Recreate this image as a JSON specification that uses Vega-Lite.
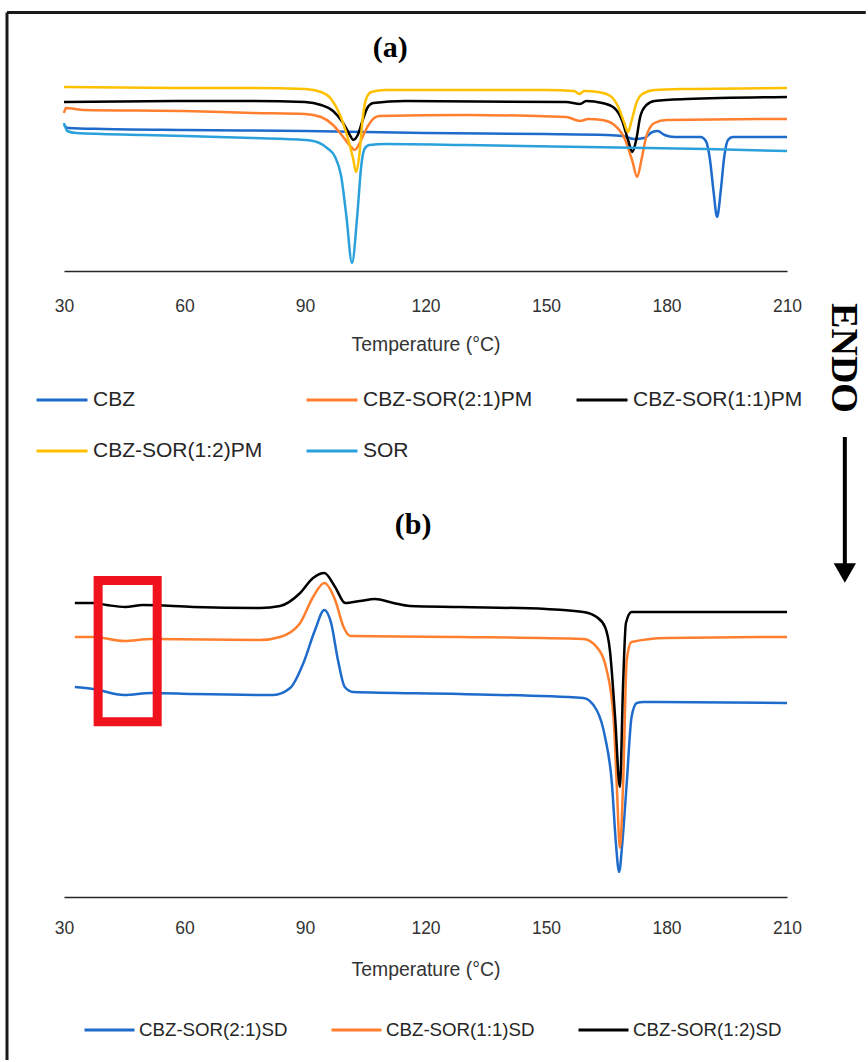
{
  "$schema": "https://vega.github.io/schema/vega-lite/v6.json",
  "background": "white",
  "padding": {"left": 5, "top": 11, "right": 0, "bottom": 0},
  "config": {
    "view": {"stroke": null},
    "axis": {"domainColor": "#262626", "domainWidth": 1.5, "ticks": false, "tickSize": 0, "grid": false, "labelFont": "Liberation Sans", "labelFontSize": 17.5, "labelColor": "#333333", "labelFlush": false, "labelOverlap": false, "titleFont": "Liberation Sans", "titleFontSize": 19.4, "titleFontWeight": "normal", "titleColor": "#333333"}
  },
  "datasets": {
    "a": [
      {"s": "CBZ", "t": 30, "h": 146}, {"s": "CBZ", "t": 31, "h": 143}, {"s": "CBZ", "t": 40, "h": 142}, {"s": "CBZ", "t": 60, "h": 141}, {"s": "CBZ", "t": 90, "h": 140}, {"s": "CBZ", "t": 120, "h": 138}, {"s": "CBZ", "t": 150, "h": 137}, {"s": "CBZ", "t": 165, "h": 136}, {"s": "CBZ", "t": 169, "h": 135}, {"s": "CBZ", "t": 172, "h": 132}, {"s": "CBZ", "t": 174.5, "h": 133}, {"s": "CBZ", "t": 176.5, "h": 139}, {"s": "CBZ", "t": 177.8, "h": 140}, {"s": "CBZ", "t": 179.5, "h": 136}, {"s": "CBZ", "t": 182, "h": 134}, {"s": "CBZ", "t": 188.5, "h": 134}, {"s": "CBZ", "t": 189.8, "h": 130}, {"s": "CBZ", "t": 190.8, "h": 112}, {"s": "CBZ", "t": 191.7, "h": 80}, {"s": "CBZ", "t": 192.6, "h": 54}, {"s": "CBZ", "t": 193.5, "h": 80}, {"s": "CBZ", "t": 194.4, "h": 115}, {"s": "CBZ", "t": 195.3, "h": 131}, {"s": "CBZ", "t": 196.5, "h": 134}, {"s": "CBZ", "t": 210, "h": 134},
      {"s": "CBZ-SOR(2:1)PM", "t": 30, "h": 158}, {"s": "CBZ-SOR(2:1)PM", "t": 30.5, "h": 163}, {"s": "CBZ-SOR(2:1)PM", "t": 35, "h": 161}, {"s": "CBZ-SOR(2:1)PM", "t": 60, "h": 160}, {"s": "CBZ-SOR(2:1)PM", "t": 77, "h": 158}, {"s": "CBZ-SOR(2:1)PM", "t": 90, "h": 157}, {"s": "CBZ-SOR(2:1)PM", "t": 94, "h": 154}, {"s": "CBZ-SOR(2:1)PM", "t": 97, "h": 146}, {"s": "CBZ-SOR(2:1)PM", "t": 99.5, "h": 134}, {"s": "CBZ-SOR(2:1)PM", "t": 101.5, "h": 124}, {"s": "CBZ-SOR(2:1)PM", "t": 102.4, "h": 121}, {"s": "CBZ-SOR(2:1)PM", "t": 103.5, "h": 127}, {"s": "CBZ-SOR(2:1)PM", "t": 105, "h": 140}, {"s": "CBZ-SOR(2:1)PM", "t": 106.5, "h": 150}, {"s": "CBZ-SOR(2:1)PM", "t": 108.5, "h": 155}, {"s": "CBZ-SOR(2:1)PM", "t": 130, "h": 156}, {"s": "CBZ-SOR(2:1)PM", "t": 155, "h": 154}, {"s": "CBZ-SOR(2:1)PM", "t": 158.5, "h": 150}, {"s": "CBZ-SOR(2:1)PM", "t": 160.5, "h": 152}, {"s": "CBZ-SOR(2:1)PM", "t": 164, "h": 151}, {"s": "CBZ-SOR(2:1)PM", "t": 167, "h": 146}, {"s": "CBZ-SOR(2:1)PM", "t": 169.5, "h": 133}, {"s": "CBZ-SOR(2:1)PM", "t": 171.5, "h": 110}, {"s": "CBZ-SOR(2:1)PM", "t": 172.7, "h": 94}, {"s": "CBZ-SOR(2:1)PM", "t": 173.8, "h": 112}, {"s": "CBZ-SOR(2:1)PM", "t": 175, "h": 135}, {"s": "CBZ-SOR(2:1)PM", "t": 177, "h": 148}, {"s": "CBZ-SOR(2:1)PM", "t": 180, "h": 151}, {"s": "CBZ-SOR(2:1)PM", "t": 210, "h": 152},
      {"s": "CBZ-SOR(1:1)PM", "t": 30, "h": 169}, {"s": "CBZ-SOR(1:1)PM", "t": 60, "h": 170}, {"s": "CBZ-SOR(1:1)PM", "t": 77, "h": 170}, {"s": "CBZ-SOR(1:1)PM", "t": 90, "h": 169}, {"s": "CBZ-SOR(1:1)PM", "t": 94, "h": 166}, {"s": "CBZ-SOR(1:1)PM", "t": 97, "h": 160}, {"s": "CBZ-SOR(1:1)PM", "t": 99.5, "h": 148}, {"s": "CBZ-SOR(1:1)PM", "t": 101.3, "h": 135}, {"s": "CBZ-SOR(1:1)PM", "t": 102, "h": 131}, {"s": "CBZ-SOR(1:1)PM", "t": 103, "h": 135}, {"s": "CBZ-SOR(1:1)PM", "t": 104.3, "h": 150}, {"s": "CBZ-SOR(1:1)PM", "t": 105.5, "h": 163}, {"s": "CBZ-SOR(1:1)PM", "t": 107, "h": 168}, {"s": "CBZ-SOR(1:1)PM", "t": 115, "h": 170}, {"s": "CBZ-SOR(1:1)PM", "t": 155, "h": 169}, {"s": "CBZ-SOR(1:1)PM", "t": 158.5, "h": 167}, {"s": "CBZ-SOR(1:1)PM", "t": 160, "h": 170}, {"s": "CBZ-SOR(1:1)PM", "t": 164, "h": 168}, {"s": "CBZ-SOR(1:1)PM", "t": 167, "h": 163}, {"s": "CBZ-SOR(1:1)PM", "t": 169, "h": 150}, {"s": "CBZ-SOR(1:1)PM", "t": 170.5, "h": 130}, {"s": "CBZ-SOR(1:1)PM", "t": 171.5, "h": 119}, {"s": "CBZ-SOR(1:1)PM", "t": 172.5, "h": 132}, {"s": "CBZ-SOR(1:1)PM", "t": 173.5, "h": 155}, {"s": "CBZ-SOR(1:1)PM", "t": 175, "h": 166}, {"s": "CBZ-SOR(1:1)PM", "t": 177, "h": 170}, {"s": "CBZ-SOR(1:1)PM", "t": 185, "h": 172}, {"s": "CBZ-SOR(1:1)PM", "t": 210, "h": 174},
      {"s": "CBZ-SOR(1:2)PM", "t": 30, "h": 184}, {"s": "CBZ-SOR(1:2)PM", "t": 60, "h": 183}, {"s": "CBZ-SOR(1:2)PM", "t": 77, "h": 183}, {"s": "CBZ-SOR(1:2)PM", "t": 90, "h": 182}, {"s": "CBZ-SOR(1:2)PM", "t": 94, "h": 179}, {"s": "CBZ-SOR(1:2)PM", "t": 96.5, "h": 172}, {"s": "CBZ-SOR(1:2)PM", "t": 98.5, "h": 158}, {"s": "CBZ-SOR(1:2)PM", "t": 100.5, "h": 135}, {"s": "CBZ-SOR(1:2)PM", "t": 102, "h": 112}, {"s": "CBZ-SOR(1:2)PM", "t": 102.7, "h": 99}, {"s": "CBZ-SOR(1:2)PM", "t": 103.5, "h": 115}, {"s": "CBZ-SOR(1:2)PM", "t": 104.3, "h": 150}, {"s": "CBZ-SOR(1:2)PM", "t": 105.2, "h": 172}, {"s": "CBZ-SOR(1:2)PM", "t": 106.5, "h": 179}, {"s": "CBZ-SOR(1:2)PM", "t": 110, "h": 181}, {"s": "CBZ-SOR(1:2)PM", "t": 150, "h": 181}, {"s": "CBZ-SOR(1:2)PM", "t": 157, "h": 180}, {"s": "CBZ-SOR(1:2)PM", "t": 158.3, "h": 177}, {"s": "CBZ-SOR(1:2)PM", "t": 159.5, "h": 180}, {"s": "CBZ-SOR(1:2)PM", "t": 163, "h": 179}, {"s": "CBZ-SOR(1:2)PM", "t": 166, "h": 175}, {"s": "CBZ-SOR(1:2)PM", "t": 168, "h": 164}, {"s": "CBZ-SOR(1:2)PM", "t": 169.5, "h": 148}, {"s": "CBZ-SOR(1:2)PM", "t": 170.4, "h": 139}, {"s": "CBZ-SOR(1:2)PM", "t": 171.3, "h": 150}, {"s": "CBZ-SOR(1:2)PM", "t": 172.5, "h": 168}, {"s": "CBZ-SOR(1:2)PM", "t": 174, "h": 177}, {"s": "CBZ-SOR(1:2)PM", "t": 177, "h": 181}, {"s": "CBZ-SOR(1:2)PM", "t": 185, "h": 182}, {"s": "CBZ-SOR(1:2)PM", "t": 210, "h": 183},
      {"s": "SOR", "t": 30, "h": 148}, {"s": "SOR", "t": 30.8, "h": 140}, {"s": "SOR", "t": 33, "h": 138}, {"s": "SOR", "t": 50, "h": 136}, {"s": "SOR", "t": 77, "h": 133}, {"s": "SOR", "t": 90, "h": 131}, {"s": "SOR", "t": 93, "h": 129}, {"s": "SOR", "t": 95.5, "h": 123}, {"s": "SOR", "t": 97.5, "h": 114}, {"s": "SOR", "t": 99, "h": 95}, {"s": "SOR", "t": 100.3, "h": 55}, {"s": "SOR", "t": 101.7, "h": 8}, {"s": "SOR", "t": 103, "h": 55}, {"s": "SOR", "t": 104, "h": 105}, {"s": "SOR", "t": 104.8, "h": 122}, {"s": "SOR", "t": 106, "h": 126}, {"s": "SOR", "t": 110, "h": 127}, {"s": "SOR", "t": 130, "h": 126}, {"s": "SOR", "t": 160, "h": 124}, {"s": "SOR", "t": 190, "h": 122}, {"s": "SOR", "t": 210, "h": 120}
    ],
    "b": [
      {"s": "CBZ-SOR(2:1)SD", "t": 32.7, "h": 210}, {"s": "CBZ-SOR(2:1)SD", "t": 37.3, "h": 208}, {"s": "CBZ-SOR(2:1)SD", "t": 45, "h": 202}, {"s": "CBZ-SOR(2:1)SD", "t": 51.7, "h": 204}, {"s": "CBZ-SOR(2:1)SD", "t": 62.2, "h": 203}, {"s": "CBZ-SOR(2:1)SD", "t": 82.1, "h": 202}, {"s": "CBZ-SOR(2:1)SD", "t": 86.3, "h": 209}, {"s": "CBZ-SOR(2:1)SD", "t": 89.6, "h": 234}, {"s": "CBZ-SOR(2:1)SD", "t": 92.5, "h": 267}, {"s": "CBZ-SOR(2:1)SD", "t": 94.8, "h": 287}, {"s": "CBZ-SOR(2:1)SD", "t": 96.5, "h": 274}, {"s": "CBZ-SOR(2:1)SD", "t": 98.2, "h": 237}, {"s": "CBZ-SOR(2:1)SD", "t": 99.9, "h": 210}, {"s": "CBZ-SOR(2:1)SD", "t": 102, "h": 205}, {"s": "CBZ-SOR(2:1)SD", "t": 128.6, "h": 203}, {"s": "CBZ-SOR(2:1)SD", "t": 159.3, "h": 199}, {"s": "CBZ-SOR(2:1)SD", "t": 162.6, "h": 187}, {"s": "CBZ-SOR(2:1)SD", "t": 164.7, "h": 160}, {"s": "CBZ-SOR(2:1)SD", "t": 166.4, "h": 114}, {"s": "CBZ-SOR(2:1)SD", "t": 167.4, "h": 54}, {"s": "CBZ-SOR(2:1)SD", "t": 168.2, "h": 25}, {"s": "CBZ-SOR(2:1)SD", "t": 169, "h": 54}, {"s": "CBZ-SOR(2:1)SD", "t": 170.1, "h": 114}, {"s": "CBZ-SOR(2:1)SD", "t": 171.3, "h": 180}, {"s": "CBZ-SOR(2:1)SD", "t": 172.6, "h": 194}, {"s": "CBZ-SOR(2:1)SD", "t": 174.2, "h": 195}, {"s": "CBZ-SOR(2:1)SD", "t": 210, "h": 194},
      {"s": "CBZ-SOR(1:1)SD", "t": 32.7, "h": 260}, {"s": "CBZ-SOR(1:1)SD", "t": 37.3, "h": 260}, {"s": "CBZ-SOR(1:1)SD", "t": 45, "h": 256}, {"s": "CBZ-SOR(1:1)SD", "t": 51.7, "h": 258}, {"s": "CBZ-SOR(1:1)SD", "t": 78.8, "h": 257}, {"s": "CBZ-SOR(1:1)SD", "t": 83.8, "h": 260}, {"s": "CBZ-SOR(1:1)SD", "t": 88.8, "h": 274}, {"s": "CBZ-SOR(1:1)SD", "t": 92, "h": 300}, {"s": "CBZ-SOR(1:1)SD", "t": 94.8, "h": 314}, {"s": "CBZ-SOR(1:1)SD", "t": 97.5, "h": 297}, {"s": "CBZ-SOR(1:1)SD", "t": 99.6, "h": 270}, {"s": "CBZ-SOR(1:1)SD", "t": 101.3, "h": 261}, {"s": "CBZ-SOR(1:1)SD", "t": 128.6, "h": 260}, {"s": "CBZ-SOR(1:1)SD", "t": 159.3, "h": 258}, {"s": "CBZ-SOR(1:1)SD", "t": 162.6, "h": 250}, {"s": "CBZ-SOR(1:1)SD", "t": 165.1, "h": 227}, {"s": "CBZ-SOR(1:1)SD", "t": 166.8, "h": 180}, {"s": "CBZ-SOR(1:1)SD", "t": 167.6, "h": 114}, {"s": "CBZ-SOR(1:1)SD", "t": 168.4, "h": 49}, {"s": "CBZ-SOR(1:1)SD", "t": 169.2, "h": 114}, {"s": "CBZ-SOR(1:1)SD", "t": 170.1, "h": 237}, {"s": "CBZ-SOR(1:1)SD", "t": 171.3, "h": 255}, {"s": "CBZ-SOR(1:1)SD", "t": 180, "h": 259}, {"s": "CBZ-SOR(1:1)SD", "t": 210, "h": 260},
      {"s": "CBZ-SOR(1:2)SD", "t": 32.7, "h": 294}, {"s": "CBZ-SOR(1:2)SD", "t": 37.3, "h": 294}, {"s": "CBZ-SOR(1:2)SD", "t": 40.6, "h": 292}, {"s": "CBZ-SOR(1:2)SD", "t": 45.2, "h": 290}, {"s": "CBZ-SOR(1:2)SD", "t": 49.7, "h": 292}, {"s": "CBZ-SOR(1:2)SD", "t": 62.2, "h": 290}, {"s": "CBZ-SOR(1:2)SD", "t": 78.8, "h": 289}, {"s": "CBZ-SOR(1:2)SD", "t": 83.8, "h": 291}, {"s": "CBZ-SOR(1:2)SD", "t": 88.8, "h": 304}, {"s": "CBZ-SOR(1:2)SD", "t": 92, "h": 319}, {"s": "CBZ-SOR(1:2)SD", "t": 94.8, "h": 324}, {"s": "CBZ-SOR(1:2)SD", "t": 97.5, "h": 310}, {"s": "CBZ-SOR(1:2)SD", "t": 100, "h": 294}, {"s": "CBZ-SOR(1:2)SD", "t": 103.7, "h": 296}, {"s": "CBZ-SOR(1:2)SD", "t": 107.4, "h": 298}, {"s": "CBZ-SOR(1:2)SD", "t": 112, "h": 294}, {"s": "CBZ-SOR(1:2)SD", "t": 116.1, "h": 291}, {"s": "CBZ-SOR(1:2)SD", "t": 128.6, "h": 290}, {"s": "CBZ-SOR(1:2)SD", "t": 150, "h": 288}, {"s": "CBZ-SOR(1:2)SD", "t": 159.3, "h": 285}, {"s": "CBZ-SOR(1:2)SD", "t": 162.6, "h": 280}, {"s": "CBZ-SOR(1:2)SD", "t": 164.7, "h": 270}, {"s": "CBZ-SOR(1:2)SD", "t": 165.9, "h": 247}, {"s": "CBZ-SOR(1:2)SD", "t": 167.2, "h": 180}, {"s": "CBZ-SOR(1:2)SD", "t": 168.4, "h": 110}, {"s": "CBZ-SOR(1:2)SD", "t": 169.2, "h": 214}, {"s": "CBZ-SOR(1:2)SD", "t": 169.9, "h": 274}, {"s": "CBZ-SOR(1:2)SD", "t": 171.3, "h": 285}, {"s": "CBZ-SOR(1:2)SD", "t": 190, "h": 285}, {"s": "CBZ-SOR(1:2)SD", "t": 210, "h": 285}
    ]
  },
  "bounds": "flush",
  "spacing": 286,
  "resolve": {"scale": {"color": "independent", "y": "independent", "x": "independent"}},
  "vconcat": [
    {
      "width": 723,
      "height": 200,
      "layer": [
        {
          "data": {"name": "a"},
          "mark": {"type": "line", "strokeWidth": 2.5, "interpolate": "monotone"},
          "encoding": {
            "x": {"field": "t", "type": "quantitative", "scale": {"domain": [30, 210], "nice": false, "zero": false}, "axis": {"values": [30, 60, 90, 120, 150, 180, 210], "title": "Temperature (°C)", "labelPadding": 26, "titlePadding": 21}},
            "y": {"field": "h", "type": "quantitative", "scale": {"domain": [0, 200], "nice": false, "zero": false}, "axis": null},
            "color": {"field": "s", "type": "nominal",
              "scale": {"domain": ["CBZ", "CBZ-SOR(2:1)PM", "CBZ-SOR(1:1)PM", "CBZ-SOR(1:2)PM", "SOR"], "range": ["#1E6BCB", "#FF7F2E", "#000000", "#FFC000", "#2AA1DC"]},
              "legend": {"orient": "none", "legendX": -29, "legendY": 302, "direction": "horizontal", "columns": 3, "title": null, "padding": 0, "symbolType": "stroke", "symbolStrokeWidth": 3, "symbolSize": 2600, "labelFont": "Liberation Sans", "labelFontSize": 21, "labelColor": "#262626", "labelOffset": 4, "labelLimit": 400, "columnPadding": 37, "rowPadding": 14, "gridAlign": "all"}}
          }
        },
        {
          "data": {"values": [{}]},
          "mark": {"type": "text", "font": "Liberation Serif", "fontWeight": "bold", "fontSize": 30, "align": "center", "baseline": "middle", "color": "#000000"},
          "encoding": {"x": {"datum": 111.2}, "y": {"datum": 223}, "text": {"value": "(a)"}}
        }
      ]
    },
    {
      "width": 723,
      "height": 340,
      "layer": [
        {
          "data": {"name": "b"},
          "mark": {"type": "line", "strokeWidth": 2.5, "interpolate": "monotone"},
          "encoding": {
            "x": {"field": "t", "type": "quantitative", "scale": {"domain": [30, 210], "nice": false, "zero": false}, "axis": {"values": [30, 60, 90, 120, 150, 180, 210], "title": "Temperature (°C)", "labelPadding": 22, "titlePadding": 24}},
            "y": {"field": "h", "type": "quantitative", "scale": {"domain": [0, 340], "nice": false, "zero": false}, "axis": null},
            "color": {"field": "s", "type": "nominal",
              "scale": {"domain": ["CBZ-SOR(2:1)SD", "CBZ-SOR(1:1)SD", "CBZ-SOR(1:2)SD"], "range": ["#1E6BCB", "#FF7F2E", "#000000"]},
              "legend": {"orient": "none", "legendX": 19, "legendY": 446, "direction": "horizontal", "columns": 3, "title": null, "padding": 0, "symbolType": "stroke", "symbolStrokeWidth": 3, "symbolSize": 2500, "labelFont": "Liberation Sans", "labelFontSize": 18.7, "labelColor": "#262626", "labelOffset": 3, "labelLimit": 400, "columnPadding": 37, "gridAlign": "all"}}
          }
        },
        {
          "data": {"values": [{}]},
          "mark": {"type": "rect", "fillOpacity": 0, "stroke": "#F0121C", "strokeWidth": 9},
          "encoding": {"x": {"datum": 38.5}, "x2": {"datum": 53.2}, "y": {"datum": 316.5}, "y2": {"datum": 175.3}}
        },
        {
          "data": {"values": [{}]},
          "mark": {"type": "text", "font": "Liberation Serif", "fontWeight": "bold", "fontSize": 30, "align": "center", "baseline": "middle", "color": "#000000"},
          "encoding": {"x": {"datum": 116.9}, "y": {"datum": 372}, "text": {"value": "(b)"}}
        },
        {
          "data": {"values": [{}]},
          "mark": {"type": "text", "font": "Liberation Serif", "fontWeight": "bold", "fontSize": 38, "angle": 90, "align": "center", "baseline": "middle", "color": "#000000"},
          "encoding": {"x": {"datum": 223.9}, "y": {"datum": 539}, "text": {"value": "ENDO"}}
        },
        {
          "data": {"values": [{}]},
          "mark": {"type": "rule", "strokeWidth": 4, "color": "#000000"},
          "encoding": {"x": {"datum": 224.4}, "y": {"datum": 460}, "y2": {"datum": 330}}
        },
        {
          "data": {"values": [{}]},
          "mark": {"type": "point", "shape": "triangle-down", "filled": true, "size": 500, "color": "#000000", "opacity": 1},
          "encoding": {"x": {"datum": 224.4}, "y": {"datum": 324}}
        },
        {
          "data": {"values": [{}]},
          "mark": {"type": "rule", "strokeWidth": 3, "color": "#1a1a1a"},
          "encoding": {"x": {"datum": 15.81}, "x2": {"datum": 229.6}, "y": {"datum": 884.5}}
        },
        {
          "data": {"values": [{}]},
          "mark": {"type": "rule", "strokeWidth": 3, "color": "#1a1a1a"},
          "encoding": {"x": {"datum": 15.81}, "y": {"datum": 884.5}, "y2": {"datum": -163}}
        }
      ]
    }
  ]
}
